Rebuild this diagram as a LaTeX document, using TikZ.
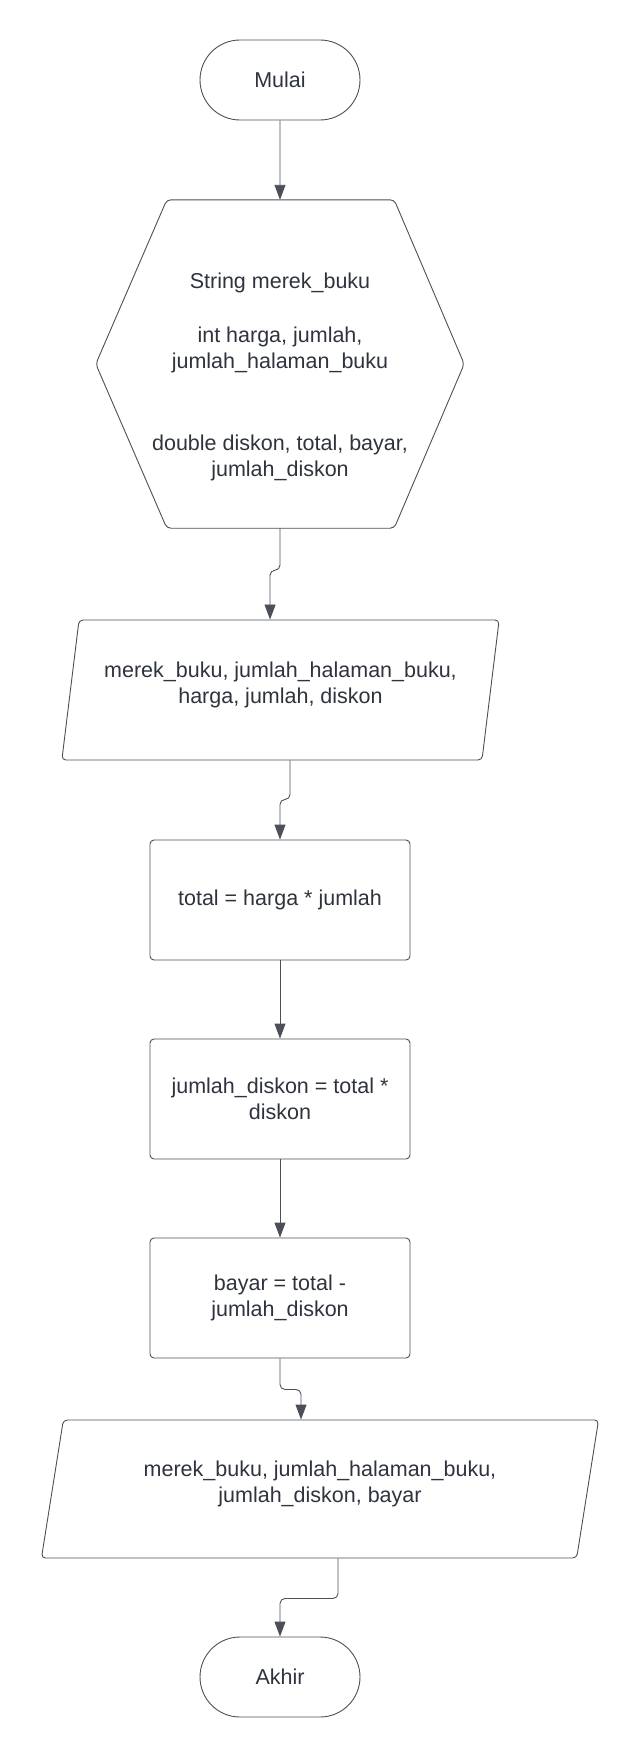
\documentclass[tikz,border=0pt]{standalone}
\usepackage{fontspec}
\setmainfont{Liberation Sans}
\usetikzlibrary{arrows.meta,shapes.geometric,shapes.misc}

\definecolor{linegray}{HTML}{4A4F58}
\definecolor{textgray}{HTML}{2E333D}

\tikzset{
  base/.style={text=textgray, font=\fontsize{21.5}{26}\selectfont, align=center, inner sep=0pt},
  terminal/.style={base, draw=linegray, line width=0.9pt, rounded rectangle, minimum width=160pt, minimum height=80pt},
  procbox/.style={base, draw=linegray, line width=0.9pt, rounded corners=4pt, minimum width=260pt, minimum height=120pt},
  iobox/.style={base, draw=linegray, line width=0.9pt, trapezium, trapezium left angle=75, trapezium right angle=105,
    trapezium stretches=true, rounded corners=4pt},
  hexbox/.style={base, minimum width=368pt, minimum height=328pt},
  flow/.style={draw=linegray, line width=0.9pt, -{Triangle[width=11pt,length=15pt]}, rounded corners=5pt},
}

\begin{document}
\begin{tikzpicture}[x=1pt,y=-1pt]
  \useasboundingbox (0,0) rectangle (640,1758);

  \node[terminal] at (280,80) (start) {Mulai};
  \node[hexbox] at (280,364) (decl) {\mbox{}\\[14.5pt]String merek\_buku\\[28pt]int harga, jumlah,\\jumlah\_halaman\_buku\\[56pt]double diskon, total, bayar,\\jumlah\_diskon};
  \draw[draw=linegray, line width=0.9pt, rounded corners=4pt] (decl.west) -- ([xshift=71pt]decl.north west)
    -- ([xshift=-70pt]decl.north east) -- (decl.east) -- ([xshift=-70pt]decl.south east)
    -- ([xshift=71pt]decl.south west) -- cycle;
  \node[iobox, minimum width=438pt, minimum height=140pt] at (280.5,690) (input) {merek\_buku, jumlah\_halaman\_buku,\\harga, jumlah, diskon\\[-11.5pt]\mbox{}};
  \node[procbox] at (280,900) (total) {total = harga * jumlah};
  \node[procbox] at (280,1099) (disc) {jumlah\_diskon = total *\\diskon};
  \node[procbox] at (280,1298) (pay) {bayar = total -\\jumlah\_diskon};
  \node[iobox, minimum width=558pt, minimum height=138pt] at (320,1489) (output) {merek\_buku, jumlah\_halaman\_buku,\\jumlah\_diskon, bayar\\[-11.5pt]\mbox{}};
  \node[terminal] at (280,1677) (finish) {Akhir};

  % draw edges
  \draw[flow] (start) -- (decl.north);
  \draw[flow] (decl.south) -- ++(0,42) -| ([xshift=-10.5pt]input.north);
  \draw[flow] ([xshift=9.5pt]input.south) -- ++(0,39) -| (total.north);
  \draw[flow] (total) -- (disc);
  \draw[flow] (disc) -- (pay);
  \draw[flow] (pay.south) -- ++(0,31) -| ([xshift=-19pt]output.north);
  \draw[flow] ([xshift=18pt]output.south) -- ++(0,40) -| (finish.north);
\end{tikzpicture}
\end{document}
